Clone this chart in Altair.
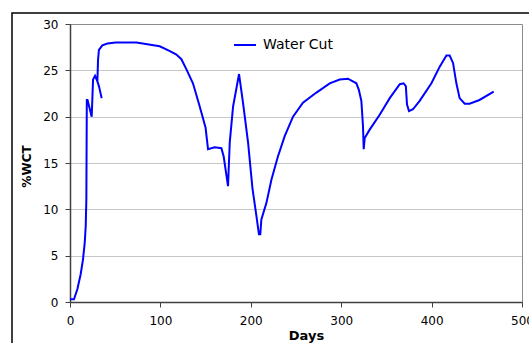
import altair as alt
import pandas as pd

days = [0, 4.4, 8.2, 11.8, 14.4, 16.3, 17.4, 18.1, 18.6, 19.4, 24.0, 25.5, 27.7, 30.3, 32.0, 35.0,
        32.0, 30.3, 31.0, 32.0, 35.8, 41.4, 50.5, 73.5, 99.2, 110, 117.7, 123.2, 128.8, 136,
        143.5, 150, 151.5, 152.7, 160, 167.5, 170, 174.8, 176.7, 180.4, 187, 191.4, 197, 201.8,
        206.2, 209, 210.5, 211.7, 217.3, 222.8, 230, 237.5, 246.7, 257.7, 272.6, 287.3, 298.3,
        307.5, 316.8, 319.5, 322.3, 324.1, 324.9, 326, 331.5, 342.6, 353.7, 364.8, 369, 371.5,
        372.8, 375, 379.4, 386.8, 399.8, 409, 416.4, 420, 423.7, 427.4, 431, 436.6, 442, 453, 468.7]
wct = [0.3, 0.3, 1.4, 3.0, 4.6, 6.4, 8.2, 11.1, 21.8, 21.8, 20.0, 24.0, 24.4, 23.8, 23.3, 22.0,
       23.3, 23.8, 26.1, 27.2, 27.7, 27.9, 28.0, 28.0, 27.6, 27.1, 26.7, 26.2, 25.1, 23.6,
       21.1, 18.8, 17.5, 16.5, 16.7, 16.6, 15.7, 12.5, 17.2, 21.1, 24.6, 21.5, 17.2, 12.3,
       9.3, 7.3, 7.3, 8.9, 10.7, 13.2, 15.7, 17.9, 20.0, 21.5, 22.6, 23.6, 24.0,
       24.1, 23.6, 22.9, 21.7, 19.0, 16.5, 17.7, 18.6, 20.2, 22.0, 23.5, 23.6, 23.3,
       21.3, 20.6, 20.8, 21.7, 23.6, 25.4, 26.6, 26.6, 25.8, 23.6, 22.0, 21.4, 21.4, 21.8, 22.7]
series = ["Water Cut"] * len(days)
x_ticks = [0, 100, 200, 300, 400, 500]
y_ticks = [0, 5, 10, 15, 20, 25, 30]

df = pd.DataFrame({"Days": days, "WCT": wct, "series": series, "idx": list(range(len(days)))})

line = alt.Chart(df).mark_line(strokeWidth=2).encode(
    x=alt.X("Days:Q", scale=alt.Scale(domain=[0, 500], nice=False),
            axis=alt.Axis(values=x_ticks, title="Days", grid=False, titleX=236, titleY=37,
                          titleBaseline="alphabetic", titleFontSize=13, labelFlush=False)),
    y=alt.Y("WCT:Q", scale=alt.Scale(domain=[0, 30], nice=False),
            axis=alt.Axis(values=y_ticks, title="%WCT", grid=True, titleX=-44, titleY=142,
                          titleBaseline="middle", titleAlign="center", titleAngle=-90,
                          titleFontSize=12, labelFlush=False)),
    color=alt.Color("series:N", scale=alt.Scale(range=["#0000FF"]),
                    legend=alt.Legend(title=None, orient="none", legendX=163, legendY=9,
                                      symbolType="stroke", symbolSize=484, symbolStrokeWidth=2,
                                      labelFontSize=14, labelFont="DejaVu Sans",
                                      labelColor="#000000", labelOffset=6)),
    order="idx:Q",
)

frame = alt.Chart(alt.Data(values=[{}])).mark_rect(
    fill=None, stroke="#000000", strokeWidth=1.5
).encode(x=alt.value(-58), x2=alt.value(600), y=alt.value(-11), y2=alt.value(400))

chart = alt.layer(frame, line).properties(
    width=452, height=278,
    autosize=alt.AutoSizeParams(type="none"),
    padding={"left": 70, "top": 24, "right": 7, "bottom": 41},
    background="#ffffff",
).configure_view(
    stroke="#8c8c8c", strokeWidth=1
).configure_axis(
    labelFont="DejaVu Sans", labelFontSize=12, labelColor="#000000",
    titleFont="DejaVu Sans", titleFontWeight="bold", titleColor="#000000",
    domainColor="#404040", domainWidth=1.5, tickColor="#404040", tickSize=5,
    gridColor="#8c8c8c", gridDash=[1, 1], gridWidth=1,
).configure_axisY(labelPadding=7).configure_axisX(labelPadding=8)

chart.save("out.html", embed_options={"renderer": "svg", "actions": False})
